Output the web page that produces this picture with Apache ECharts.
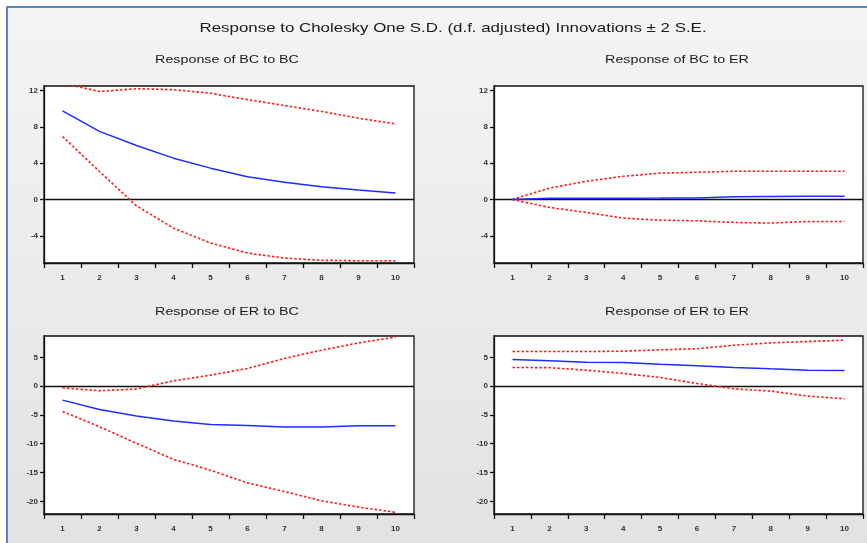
<!DOCTYPE html>
<html>
<head>
<meta charset="utf-8">
<script src="https://cdn.jsdelivr.net/npm/echarts@6/dist/echarts.min.js"></script>
<style>
html,body{margin:0;padding:0;background:#fff;}
#chart{width:867px;height:543px;}
</style>
</head>
<body>
<div id="chart"></div>
<script>
// ---- data ----
var periods = ['1','2','3','4','5','6','7','8','9','10'];
var topTicks = [-4, 0, 4, 8, 12];
var bottomTicks = [-20, -15, -10, -5, 0, 5];

var bcToBC      = [9.76, 7.5, 5.95, 4.55, 3.45, 2.5, 1.9, 1.4, 1.03, 0.7];
var bcToBCUpper = [12.8, 11.9, 12.2, 12.1, 11.7, 11.0, 10.35, 9.7, 8.95, 8.33];
var bcToBCLower = [6.94, 3.08, -0.7, -3.16, -4.8, -5.9, -6.46, -6.7, -6.75, -6.75];

var bcToER      = [0, 0.12, 0.13, 0.14, 0.15, 0.17, 0.3, 0.33, 0.35, 0.36];
var bcToERUpper = [0, 1.25, 2.0, 2.55, 2.9, 3.0, 3.1, 3.1, 3.1, 3.1];
var bcToERLower = [0, -0.88, -1.43, -2.05, -2.28, -2.35, -2.53, -2.6, -2.42, -2.42];

var erToBC      = [-2.43, -4.05, -5.2, -6.07, -6.65, -6.82, -7.1, -7.1, -6.9, -6.9];
var erToBCUpper = [-0.29, -0.8, -0.5, 0.92, 1.9, 3.06, 4.8, 6.24, 7.5, 8.5];
var erToBCLower = [-4.4, -7.05, -9.94, -12.7, -14.6, -16.8, -18.3, -19.9, -21.0, -21.9];

var erToER      = [4.62, 4.39, 4.16, 4.1, 3.8, 3.53, 3.24, 3.0, 2.77, 2.72];
var erToERUpper = [6.0, 6.0, 6.0, 6.07, 6.3, 6.5, 7.1, 7.5, 7.75, 7.98];
var erToERLower = [3.24, 3.2, 2.77, 2.2, 1.5, 0.46, -0.46, -0.87, -1.73, -2.2];

var titleText = 'Response to Cholesky One S.D. (d.f. adjusted) Innovations \u00b1 2 S.E.';
var panelTitles = ['Response of BC to BC', 'Response of BC to ER', 'Response of ER to BC', 'Response of ER to ER'];

// ---- layout ----
var FONT = '"Liberation Sans", Arial, sans-serif';
var grids = [
  {left: 44, top: 86, width: 370, height: 177},
  {left: 494, top: 86, width: 369, height: 177},
  {left: 44, top: 336, width: 370, height: 178},
  {left: 494, top: 336, width: 369, height: 178}
];
var panels = [
  {mid: bcToBC, up: bcToBCUpper, lo: bcToBCLower, min: -7, max: 12.5, ticks: topTicks},
  {mid: bcToER, up: bcToERUpper, lo: bcToERLower, min: -7, max: 12.5, ticks: topTicks},
  {mid: erToBC, up: erToBCUpper, lo: erToBCLower, min: -22.2, max: 8.7, ticks: bottomTicks},
  {mid: erToER, up: erToERUpper, lo: erToERLower, min: -22.2, max: 8.7, ticks: bottomTicks}
];

function stretchedText(txt, cx, cy, size) {
  return {type: 'text', x: cx, y: cy, scaleX: 1.3, scaleY: 1, z: 10,
    style: {text: txt, x: 0, y: 0, fontFamily: FONT, fontSize: size, fill: '#1a1a1a',
      textAlign: 'center', textVerticalAlign: 'middle'}};
}

var option = {
  animation: false,
  backgroundColor: '#ffffff',
  graphic: [
    {type: 'rect', left: 7, top: 7, shape: {width: 870, height: 545}, z: -10,
     style: {fill: new echarts.graphic.LinearGradient(0, 0, 0, 1, [
        {offset: 0, color: '#f4f4f4'}, {offset: 1, color: '#e2e2e2'}])}},
    {type: 'rect', left: 6, top: 6, shape: {width: 870, height: 2}, z: -9, style: {fill: '#5b87c0'}},
    {type: 'rect', left: 6, top: 6, shape: {width: 2, height: 545}, z: -9, style: {fill: '#5b87c0'}},
    stretchedText(titleText, 453, 28, 13)
  ],
  grid: [],
  xAxis: [],
  yAxis: [],
  series: []
};

var titleCenters = [227, 677, 227, 677];
var titleMids = [60, 60, 312, 312];
panels.forEach(function (p, i) {
  option.graphic.push(stretchedText(panelTitles[i], titleCenters[i], titleMids[i], 11));
  option.grid.push(Object.assign({show: true, backgroundColor: '#ffffff', borderColor: '#111', borderWidth: 1.3}, grids[i]));
  option.xAxis.push({
    type: 'category', gridIndex: i, data: periods, boundaryGap: true,
    axisLine: {show: true, onZero: false, lineStyle: {color: '#111', width: 1.3}},
    axisTick: {show: true, length: 5, lineStyle: {color: '#111', width: 1.3}},
    axisLabel: {fontFamily: FONT, fontSize: 8, fontWeight: 'bold', color: '#333', margin: 11},
    splitLine: {show: false}
  });
  option.yAxis.push({
    type: 'value', gridIndex: i, min: p.min, max: p.max,
    axisLine: {show: true, onZero: false, lineStyle: {color: '#111', width: 1.3}},
    axisTick: {show: true, length: 4, customValues: p.ticks, lineStyle: {color: '#111', width: 1.3}},
    axisLabel: {fontFamily: FONT, fontSize: 8, fontWeight: 'bold', color: '#333', margin: 6, customValues: p.ticks},
    splitLine: {show: false}
  });
  option.series.push({
    type: 'line', xAxisIndex: i, yAxisIndex: i, data: p.up, symbol: 'none', clip: true,
    lineStyle: {color: '#ff1a1a', width: 1.6, type: [2.5, 2]}, z: 3
  });
  option.series.push({
    type: 'line', xAxisIndex: i, yAxisIndex: i, data: p.lo, symbol: 'none', clip: true,
    lineStyle: {color: '#ff1a1a', width: 1.6, type: [2.5, 2]}, z: 3
  });
  option.series.push({
    type: 'line', xAxisIndex: i, yAxisIndex: i, data: p.mid, symbol: 'none', clip: true,
    lineStyle: {color: '#1f2cff', width: 1.5}, z: 4,
    markLine: {silent: true, symbol: 'none', label: {show: false},
      lineStyle: {color: '#111', width: 1.3, type: 'solid'}, data: [{yAxis: 0}], z: 2}
  });
});

var chart = echarts.init(document.getElementById('chart'), null, {renderer: 'canvas'});
chart.setOption(option);
</script>
</body>
</html>
